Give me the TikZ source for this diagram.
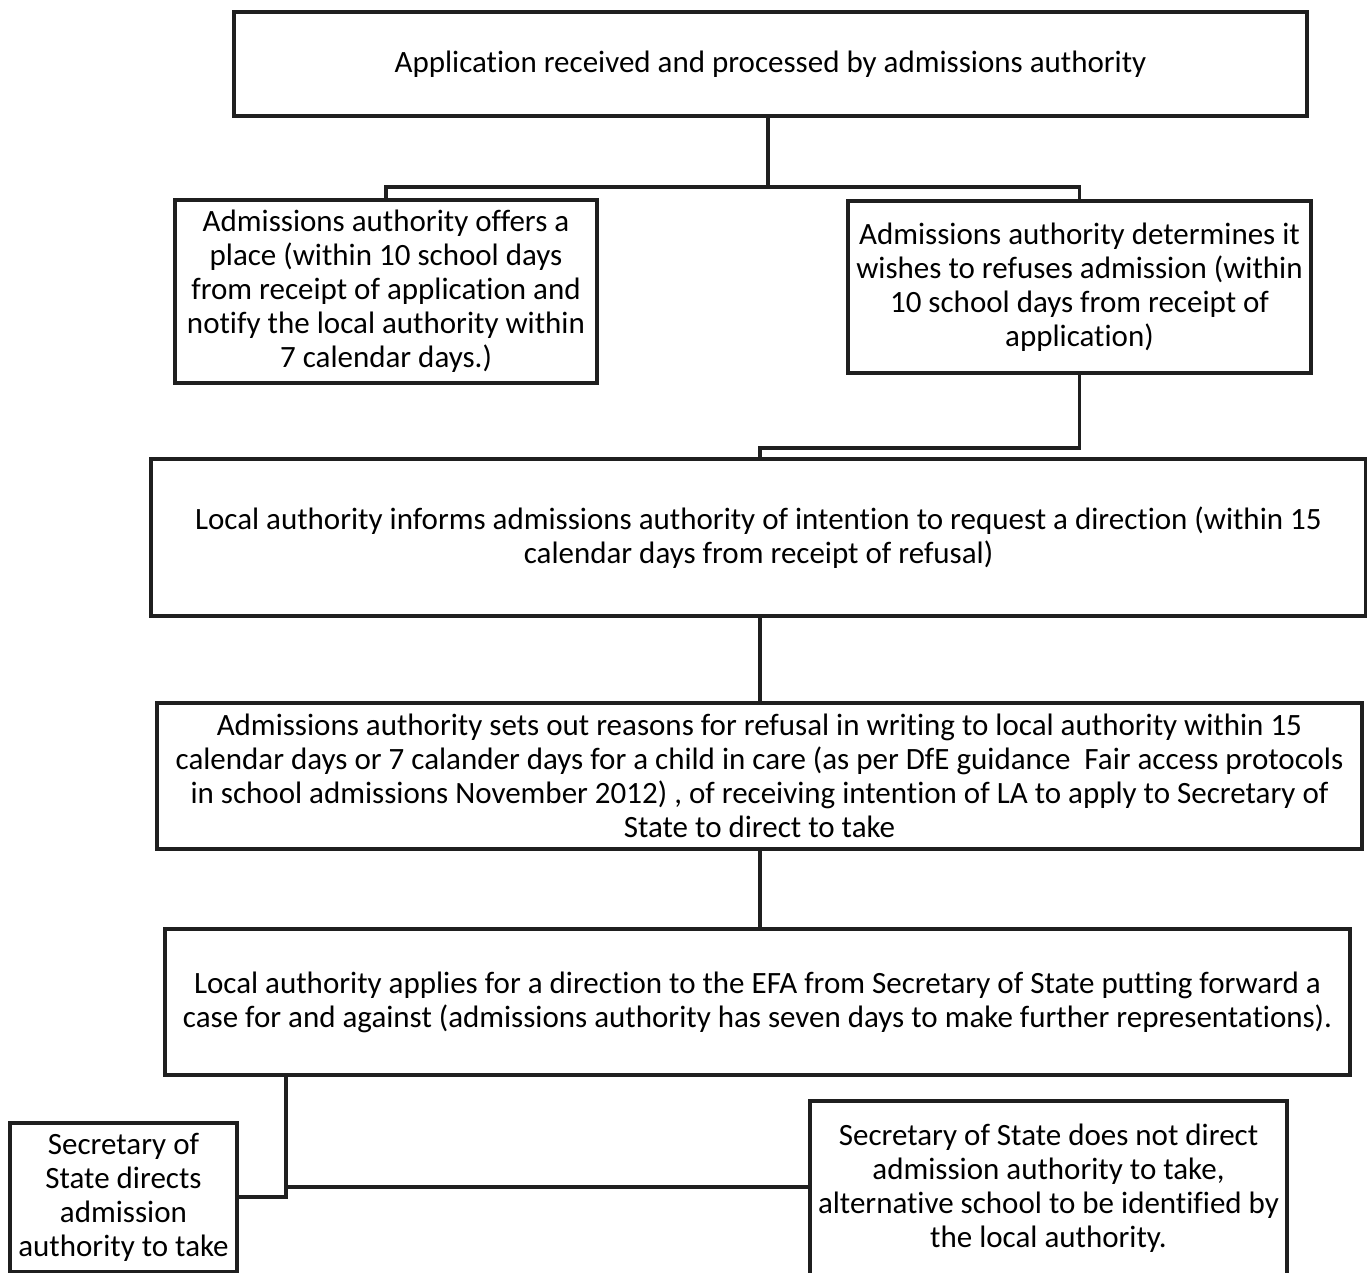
\documentclass[tikz,border=0pt]{standalone}
\usepackage{fontspec}
\setmainfont{Carlito}[Ligatures=CommonOff]
\begin{document}
\begin{tikzpicture}[x=1pt,y=-1pt,
  box/.style={draw=black!88, line width=3.2pt, rectangle, inner sep=0pt, align=center,
    font=\fontsize{31}{34}\selectfont, text=black},
  conn/.style={draw=black!88, line width=3.2pt}]
\path[use as bounding box, clip] (0,0) rectangle (1367,1272);
\fill[white] (0,0) rectangle (1367,1272);

\node[box, minimum width=1073pt, minimum height=104pt] (b1) at (770.5,64)
  {Application received and processed by admissions authority};
\node[box, minimum width=422pt, minimum height=183pt] (b2) at (386,291.5)
  {Admissions authority offers a\\place (within 10 school days\\from receipt of application and\\notify the local authority within\\7 calendar days.)};
\node[box, minimum width=463pt, minimum height=172pt] (b3) at (1079.5,287)
  {Admissions authority determines it\\wishes to refuses admission (within\\10 school days from receipt of\\application)};
\node[box, minimum width=1215pt, minimum height=157pt] (b4) at (758.5,537.5)
  {Local authority informs admissions authority of intention to request a direction (within 15\\calendar days from receipt of refusal)};
\node[box, minimum width=1205pt, minimum height=146pt] (b5) at (759.5,776)
  {Admissions authority sets out reasons for refusal in writing to local authority within 15\\calendar days or 7 calander days for a child in care (as per DfE guidance\ \ Fair access protocols\\in school admissions November 2012) , of receiving intention of LA to apply to Secretary of\\State to direct to take};
\node[box, minimum width=1185pt, minimum height=146pt] (b6) at (757.5,1002)
  {Local authority applies for a direction to the EFA from Secretary of State putting forward a\\case for and against (admissions authority has seven days to make further representations).};
\node[box, minimum width=227pt, minimum height=149pt] (b7) at (123.5,1197.5)
  {Secretary of\\State directs\\admission\\authority to take};
\node[box, minimum width=477pt, minimum height=174pt] (b8) at (1048.5,1188)
  {Secretary of State does not direct\\admission authority to take,\\alternative school to be identified by\\the local authority.};

\coordinate (j1) at (768,187);
\coordinate (j2) at (760,448);
\coordinate (j5) at (286,1187);
\coordinate (j6) at (286,1197);

\draw[conn] (b1.south -| j1) -- (j1);
\draw[conn] (b2.north) |- (j1) -| (b3.north);
\draw[conn] (b3.south) |- (j2) -- (j2 |- b4.north);
\draw[conn] (b4.south -| j2) -- (j2 |- b5.north);
\draw[conn] (b5.south -| j2) -- (j2 |- b6.north);
\draw[conn] (b6.south -| j6) -- (j6) -- (j6 -| b7.east);
\draw[conn] (j5) -- (j5 -| b8.west);
\end{tikzpicture}
\end{document}
